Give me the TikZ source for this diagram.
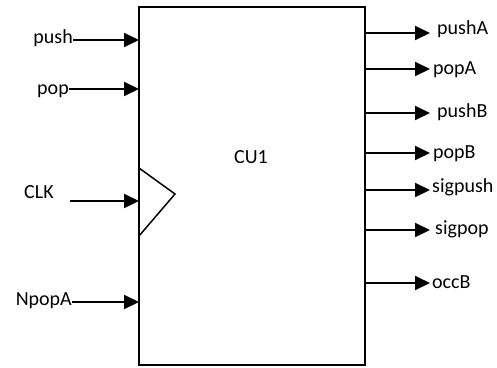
\documentclass[tikz,border=0pt]{standalone}
\usepackage{fontspec}
\setmainfont{Carlito}
\usetikzlibrary{arrows.meta}
\begin{document}
\begin{tikzpicture}[x=1pt,y=-1pt,
  sig/.style={line width=2pt,-{Triangle[length=15pt,width=14pt]}},
  lbl/.style={inner sep=0pt,font=\fontsize{20}{22}\selectfont},
  boxline/.style={line width=1.8pt}]
\useasboundingbox (0,0) rectangle (497,367);
\coordinate (tl) at (139,7);
\coordinate (br) at (365,365);
\draw[boxline] (tl) rectangle (br);
% clock triangle
\coordinate (t1) at (139,168);
\coordinate (t2) at (175,194);
\coordinate (t3) at (139,236);
\draw[line width=1.5pt] (t1) -- (t2) -- (t3);
\node[lbl] (cu) at (251,157) {CU1};
% inputs
\node[lbl,anchor=base east] (push) at (73,43) {push};
\node[lbl,anchor=base east] (pop) at (69,94) {pop};
\node[lbl,anchor=base west] (clk) at (24,198) {CLK};
\node[lbl,anchor=base east] (npopa) at (72,305) {NpopA};
\coordinate (ipush) at (139,40);
\coordinate (ipop) at (139,89);
\coordinate (iclk) at (139,201);
\coordinate (inpopa) at (139,302);
\coordinate (sclk) at (70,201);
\draw[sig] (push.east |- ipush) -- (ipush);
\draw[sig] (pop.east |- ipop) -- (ipop);
\draw[sig] (sclk) -- (iclk);
\draw[sig] (npopa.east |- inpopa) -- (inpopa);
% outputs
\foreach \nm/\txt/\ya/\yb/\xt in {oa/pushA/33/34/437, ob/popA/69/74/433, oc/pushB/113/117/437, od/popB/153/158/433, oe/sigpush/190/192/432, of/sigpop/230/234/435, og/occB/283/288/432}{
  \coordinate (\nm s) at (365,\ya);
  \coordinate (\nm e) at (430,\ya);
  \node[lbl,anchor=base west] (\nm) at (\xt,\yb) {\txt};
  \draw[sig] (\nm s) -- (\nm e);
}
\end{tikzpicture}
\end{document}
